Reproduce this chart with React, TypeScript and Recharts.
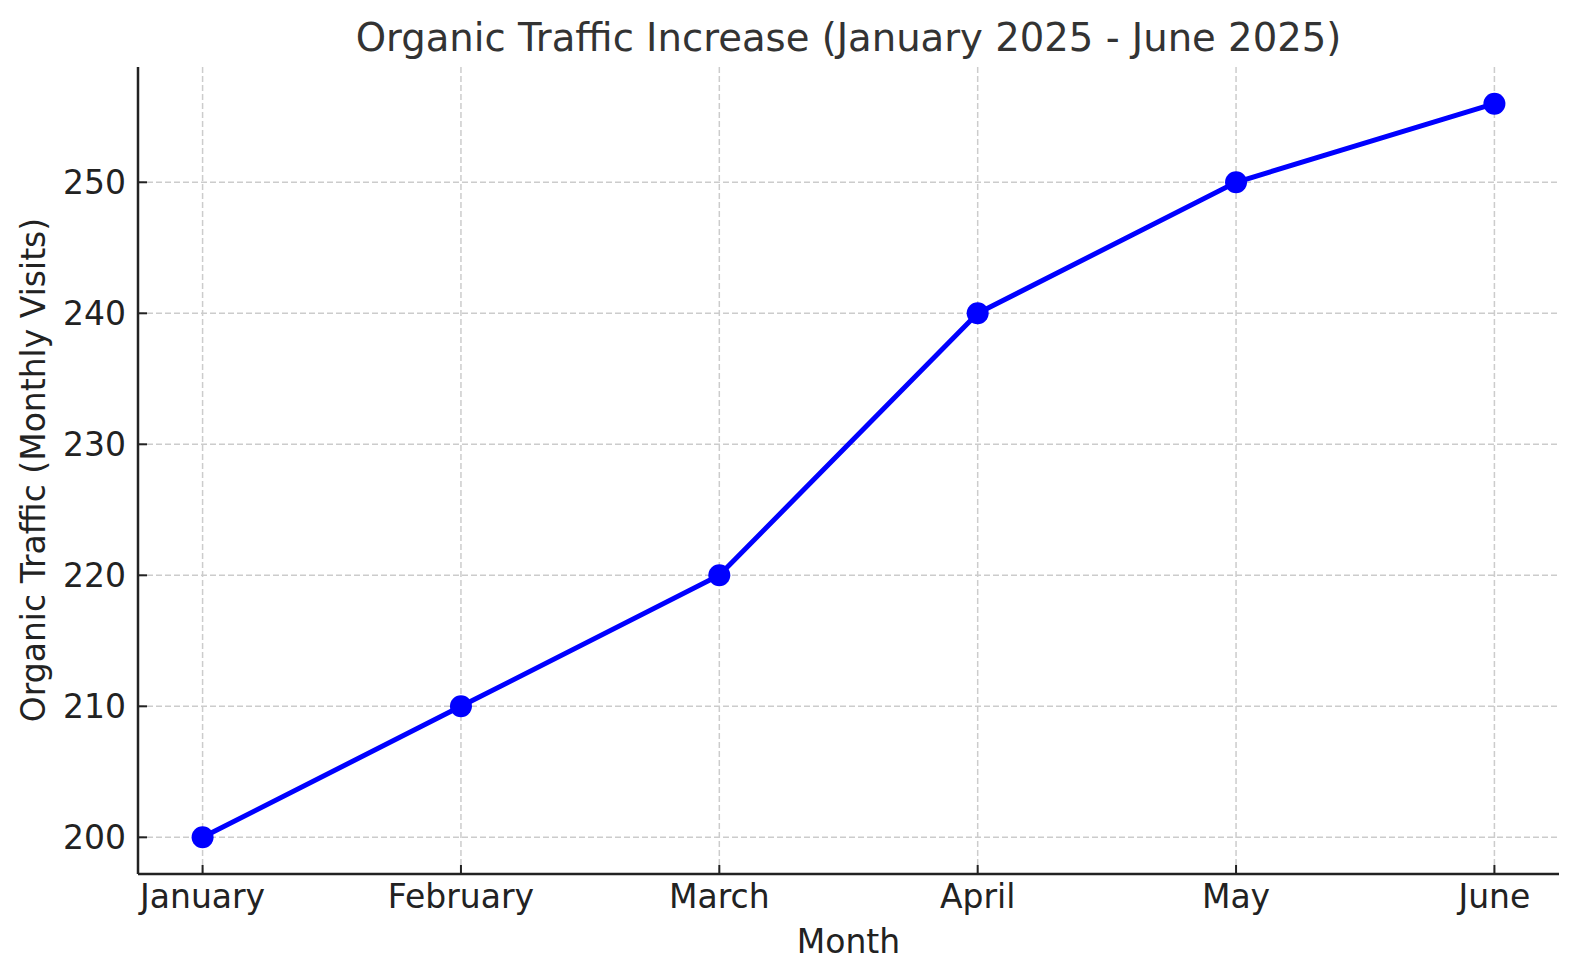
import { LineChart, Line, XAxis, YAxis, CartesianGrid } from "recharts";

const MONTHS = ["January", "February", "March", "April", "May", "June"];
const TRAFFIC = [200, 210, 220, 240, 250, 256];
const Y_TICKS = [200, 210, 220, 230, 240, 250];
const X_TICKS = [0, 1, 2, 3, 4, 5];

const FONT = "'DejaVu Sans', sans-serif";
const W = 1580;
const H = 980;

const data = MONTHS.map((month, i) => ({ idx: i, month, traffic: TRAFFIC[i] }));

function XTick({ x, y, payload }: any) {
  return (
    <g>
      <line x1={x} y1={y} x2={x} y2={y - 9} stroke="#222" strokeWidth={2} />
      <text x={x} y={y + 34} textAnchor="middle" fontSize={33} fill="#222" fontFamily={FONT}>
        {MONTHS[payload.value]}
      </text>
    </g>
  );
}

function YTick({ x, y, payload }: any) {
  return (
    <g>
      <line x1={x} y1={y} x2={x + 9} y2={y} stroke="#222" strokeWidth={2} />
      <text x={x - 12} y={y + 12} textAnchor="end" fontSize={33} fill="#222" fontFamily={FONT}>
        {payload.value}
      </text>
    </g>
  );
}

// only draw grid lines at the real ticks (no border lines at the plot edges)
const scaleOf = (axis: any) => {
  const s = axis?.scale;
  if (typeof s === "function") return s;
  if (s && typeof s.map === "function") return (v: number) => s.map(v);
  return null;
};

export default function App() {
  return (
    <div style={{ position: "absolute", left: 0, top: 0, width: W, height: H, background: "#fff" }}>
      <LineChart
        width={W}
        height={H}
        data={data}
        margin={{ top: 67, right: 21, left: 38, bottom: 26 }}
      >
        <CartesianGrid
          stroke="#cccccc"
          strokeWidth={1.5}
          strokeDasharray="6 3"
          horizontalCoordinatesGenerator={({ yAxis }: any) => {
            const s = scaleOf(yAxis);
            return s ? Y_TICKS.map((v) => s(v)) : [];
          }}
          verticalCoordinatesGenerator={({ xAxis }: any) => {
            const s = scaleOf(xAxis);
            return s ? X_TICKS.map((v) => s(v)) : [];
          }}
        />
        <XAxis
          dataKey="idx"
          type="number"
          domain={[-0.25, 5.25]}
          ticks={X_TICKS}
          height={80}
          tickSize={0}
          tickMargin={0}
          tickLine={false}
          axisLine={{ stroke: "#222", strokeWidth: 2.5 }}
          tick={<XTick />}
          interval={0}
        />
        <YAxis
          type="number"
          domain={[197.2, 258.8]}
          ticks={Y_TICKS}
          width={100}
          tickSize={0}
          tickMargin={0}
          tickLine={false}
          axisLine={{ stroke: "#222", strokeWidth: 2.5 }}
          tick={<YTick />}
          allowDataOverflow
          interval={0}
        />
        <Line
          dataKey="traffic"
          stroke="#0000ff"
          strokeWidth={5}
          dot={{ r: 11, fill: "#0000ff", stroke: "none" }}
          activeDot={false}
          isAnimationActive={false}
        />
      </LineChart>
      <svg
        width={W}
        height={H}
        style={{ position: "absolute", left: 0, top: 0, pointerEvents: "none" }}
      >
        <text x={848.5} y={51} textAnchor="middle" fontSize={38.6} fill="#333" fontFamily={FONT}>
          Organic Traffic Increase (January 2025 - June 2025)
        </text>
        <text x={848.5} y={953} textAnchor="middle" fontSize={33} fill="#222" fontFamily={FONT}>
          Month
        </text>
        <text
          x={0}
          y={0}
          transform="translate(45 470) rotate(-90)"
          textAnchor="middle"
          fontSize={33}
          fill="#222"
          fontFamily={FONT}
        >
          Organic Traffic (Monthly Visits)
        </text>
      </svg>
    </div>
  );
}
